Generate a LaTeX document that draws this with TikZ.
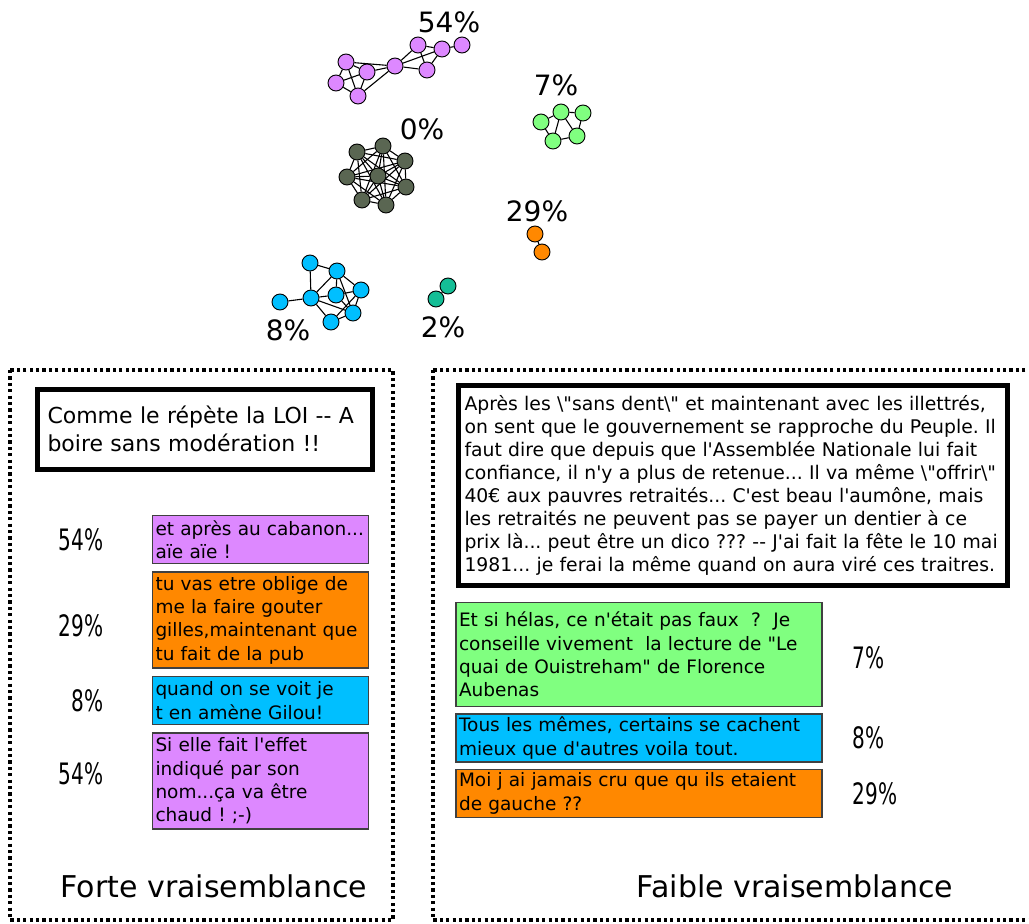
\documentclass[tikz,border=0pt]{standalone}
\usepackage{fontspec}
\setmainfont{DejaVu Sans}[Ligatures=TeXOff]
\newfontfamily\condfont{DejaVu Sans}[FakeStretch=0.68]
\usepackage{tikz}
\usetikzlibrary{positioning,backgrounds}
\frenchspacing
\hyphenpenalty=10000
\exhyphenpenalty=10000
\definecolor{cpur}{RGB}{221,136,255}
\definecolor{cgrn}{RGB}{128,255,128}
\definecolor{cblu}{RGB}{0,191,255}
\definecolor{cora}{RGB}{255,136,0}
\definecolor{ctea}{RGB}{20,190,150}
\definecolor{cdrk}{RGB}{90,102,82}
\tikzset{
  v/.style   ={circle,draw,line width=0.9pt,minimum size=16pt,inner sep=0pt},
  ln/.style  ={line width=1.1pt},
  pct/.style ={font=\fontsize{28}{32}\selectfont,inner sep=0pt},
  side/.style={font=\condfont\fontsize{29.5}{32}\selectfont,inner sep=0pt},
  msg/.style ={rectangle,draw=black!75,line width=1.5pt,align=left,inner xsep=3pt,inner ysep=0pt,
               font=\fontsize{18.5}{23.3}\selectfont},
  quote/.style={rectangle,draw,line width=5pt,align=left,inner ysep=0pt},
  frame/.style={line width=3.2pt,dash pattern=on 3.2pt off 3.2pt},
  title/.style={font=\fontsize{30}{34}\selectfont,inner sep=0pt},
}
\begin{document}
\begin{tikzpicture}[x=1pt,y=-1pt]
  \useasboundingbox (0,0) rectangle (1029,924);
  % clusters
  \foreach \n/\p in {pa/{346,62},pb/{367,72},pc/{336,83},pd/{358,96},pe/{395,66},
                     pf/{418,45},pg/{442,49},ph/{427,70},pi/{462,45}}
    \node[v,fill=cpur] (\n) at (\p) {};
  \foreach \n/\p in {ga/{541,122},gb/{561,112},gc/{583,113},gd/{553,141},ge/{577,136}}
    \node[v,fill=cgrn] (\n) at (\p) {};
  \foreach \n/\p in {k1/{357,152},k2/{383,146},k3/{405,161},k4/{347,177},
                     k5/{378,176},k6/{406,187},k7/{362,200},k8/{386,205}}
    \node[v,fill=cdrk] (\n) at (\p) {};
  \foreach \n/\p in {c1/{310,263},c2/{337,271},c3/{280,302},c4/{311,298},
                     c5/{336,295},c6/{361,290},c7/{353,313},c8/{331,322}}
    \node[v,fill=cblu] (\n) at (\p) {};
  \node[v,fill=cora] (o1) at (535,234) {};
  \node[v,fill=cora] (o2) at (542,252) {};
  \node[v,fill=ctea] (t1) at (448,286) {};
  \node[v,fill=ctea] (t2) at (436,299) {};
  \begin{scope}[on background layer]
    \foreach \a/\b in {pa/pb,pa/pc,pa/pd,pb/pc,pb/pd,pc/pd,pa/pe,pb/pe,pd/pe,
                       pe/pf,pe/pg,pe/ph,pf/pg,pf/ph,pg/ph,pg/pi,
                       ga/gb,ga/gd,gb/gc,gb/gd,gb/ge,gc/ge,gd/ge,
                       c1/c2,c1/c4,c3/c4,c4/c2,c4/c5,c4/c7,c4/c8,c2/c5,c2/c6,
                       c2/c7,c5/c6,c5/c7,c6/c7,c6/c8,c7/c8,o1/o2,t1/t2}
      \draw[ln] (\a) -- (\b);
    \foreach \i in {1,...,7}{
      \pgfmathtruncatemacro\nx{\i+1}
      \foreach \j in {\nx,...,8} \draw[ln] (k\i) -- (k\j);
    }
  \end{scope}
  \node[pct] (l54) at (449,22)  {54\%};
  \node[pct] (l7)  at (556,85)  {7\%};
  \node[pct] (l0)  at (422,129) {0\%};
  \node[pct] (l29) at (537,211) {29\%};
  \node[pct] (l8)  at (288,330) {8\%};
  \node[pct] (l2)  at (443,327) {2\%};

  % left panel
  \draw[frame] (10,370) rectangle (393,920);
  \node[quote,minimum width=335pt,minimum height=80pt,text width=315pt,inner xsep=10pt,
        font=\fontsize{22}{28}\selectfont] (qL) at (205,429)
    {Comme le répète la LOI -- A\\ boire sans modération !!};
  \node[msg,fill=cpur,text width=210pt,minimum height=48pt] (b1) at (260.5,539.5)
    {et après au cabanon...\\ aïe aïe !};
  \node[msg,fill=cora,text width=210pt,minimum height=96pt,below=7pt of b1] (b2)
    {tu vas etre oblige de\\ me la faire gouter\\ gilles,maintenant que\\ tu fait de la pub};
  \node[msg,fill=cblu,text width=210pt,minimum height=48pt,below=7pt of b2] (b3)
    {quand on se voit je\\ t en amène Gilou!};
  \node[msg,fill=cpur,text width=210pt,minimum height=96pt,below=7pt of b3] (b4)
    {Si elle fait l'effet\\ indiqué par son\\ nom...ça va être\\ chaud ! ;-)};
  \node[side,left=48pt of b1] (s1) {54\%};
  \node[side,left=48pt of b2,yshift=-6pt] (s2) {29\%};
  \node[side,left=48pt of b3] (s3) {8\%};
  \node[side,left=48pt of b4,yshift=7pt] (s4) {54\%};
  \node[title] (tL) at (214,886) {Forte vraisemblance};

  % right panel
  \draw[frame] (433,370) rectangle (1040,920);
  \node[quote,minimum width=549pt,minimum height=200pt,text width=537pt,inner xsep=6pt,
        font=\fontsize{18.8}{23}\selectfont] (qR) at (733,485)
    {Après les \textbackslash"sans dent\textbackslash" et maintenant avec les illettrés,\\
     on sent que le gouvernement se rapproche du Peuple. Il\\
     faut dire que depuis que l'Assemblée Nationale lui fait\\
     confiance, il n'y a plus de retenue... Il va même \textbackslash"offrir\textbackslash"\\
     40€ aux pauvres retraités... C'est beau l'aumône, mais\\
     les retraités ne peuvent pas se payer un dentier à ce\\
     prix là... peut être un dico ??? -- J'ai fait la fête le 10 mai\\
     1981... je ferai la même quand on aura viré ces traitres.};
  \node[msg,fill=cgrn,text width=360pt,minimum height=104pt] (g1) at (639,654.5)
    {Et si hélas, ce n'était pas faux~ ?~ Je\\ conseille vivement~ la lecture de "Le\\
     quai de Ouistreham" de Florence\\ Aubenas};
  \node[msg,fill=cblu,text width=360pt,minimum height=48pt,below=6pt of g1] (g2)
    {Tous les mêmes, certains se cachent\\ mieux que d'autres voila tout.};
  \node[msg,fill=cora,text width=360pt,minimum height=48pt,below=6pt of g2] (g3)
    {Moi j ai jamais cru que qu ils etaient\\ de gauche ??};
  \node[side,right=30pt of g1,yshift=-3pt] (r1) {7\%};
  \node[side,right=30pt of g2] (r2) {8\%};
  \node[side,right=30pt of g3] (r3) {29\%};
  \node[title] (tR) at (795,886) {Faible vraisemblance};
\end{tikzpicture}
\end{document}
